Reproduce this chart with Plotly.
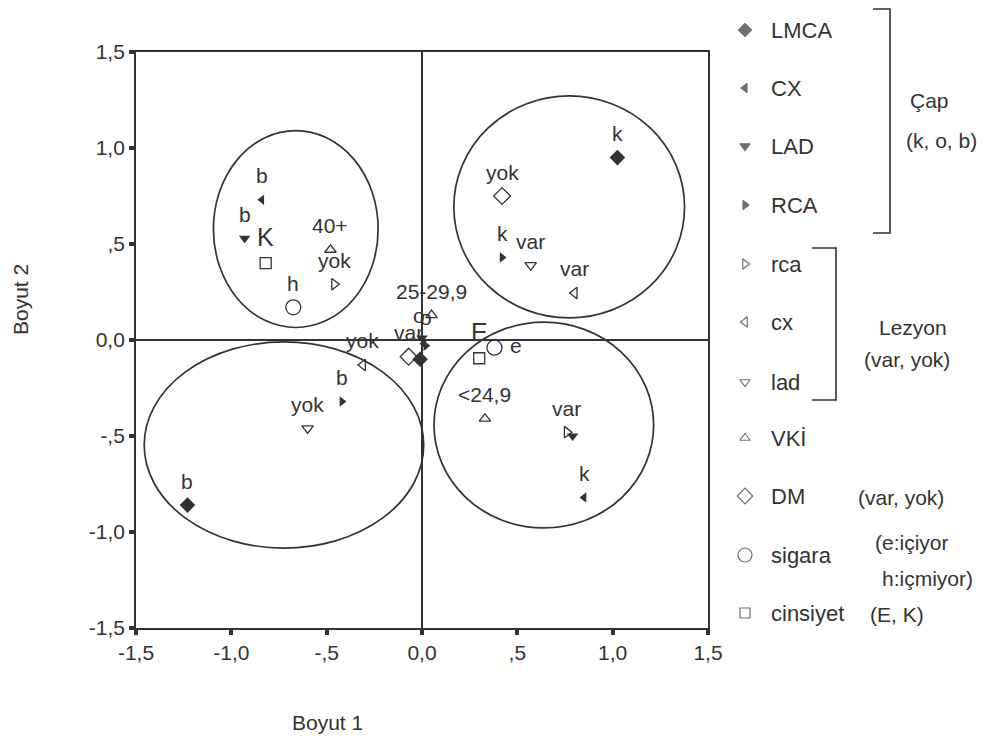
import plotly.graph_objects as go

# ---------------- data ----------------
series_names = ["LMCA", "CX", "LAD", "RCA", "rca", "cx", "lad", "VKİ", "DM", "sigara", "cinsiyet"]
LMCA_x = [1.025, -0.01, -1.23]
LMCA_y = [0.95, -0.10, -0.86]
LMCA_lab = ["k", "", "b"]
CX_x = [-0.84, 0.01, 0.85]
CX_y = [0.73, -0.02, -0.82]
CX_lab = ["b", "o", "k"]
LAD_x = [-0.93, 0.00, 0.79]
LAD_y = [0.53, 0.01, -0.50]
LAD_lab = ["b", "", ""]
RCA_x = [0.42, 0.02, -0.42]
RCA_y = [0.43, -0.03, -0.32]
RCA_lab = ["k", "o", "b"]
rca_x = [-0.46, 0.76]
rca_y = [0.29, -0.48]
rca_lab = ["yok", "var"]
cx_x = [0.80, -0.31]
cx_y = [0.245, -0.13]
cx_lab = ["var", "yok"]
lad_x = [0.57, -0.60]
lad_y = [0.39, -0.46]
lad_lab = ["var", "yok"]
VKI_x = [-0.48, 0.05, 0.33]
VKI_y = [0.47, 0.13, -0.41]
VKI_lab = ["40+", "25-29,9", "<24,9"]
DM_x = [0.42, -0.07]
DM_y = [0.75, -0.087]
DM_lab = ["yok", "var"]
sigara_x = [-0.675, 0.38]
sigara_y = [0.17, -0.04]
sigara_lab = ["h", "e"]
cins_x = [-0.82, 0.30]
cins_y = [0.40, -0.095]
cins_lab = ["K", "E"]

# cluster ellipses (center x, center y, radius x, radius y)
ell_cx = [-0.662, 0.772, 0.639, -0.724]
ell_cy = [0.578, 0.693, -0.443, -0.547]
ell_rx = [0.432, 0.605, 0.576, 0.733]
ell_ry = [0.513, 0.578, 0.536, 0.537]

tick_vals = [-1.5, -1.0, -0.5, 0.0, 0.5, 1.0, 1.5]
tick_text = ["-1,5", "-1,0", "-,5", "0,0", ",5", "1,0", "1,5"]

legend_labels = ["LMCA", "CX", "LAD", "RCA", "rca", "cx", "lad", "VKİ", "DM", "sigara", "cinsiyet"]

# ---------------- styles ----------------
INK = "#333333"
FONT = "Liberation Sans, Arial, sans-serif"
OFF = 8                     # page body margin
W, H = 989 - OFF, 744 - OFF  # figure size so that it ends at the window edge
PL, PR, PT, PB = 136 - OFF, 708 - OFF, 52 - OFF, 628 - OFF  # plot area in figure pixels

styles = {
    "LMCA": dict(symbol="diamond", size=12, filled=True, leg=10),
    "CX": dict(symbol="triangle-left", size=9, filled=True, leg=8),
    "LAD": dict(symbol="triangle-down", size=10, filled=True, leg=9),
    "RCA": dict(symbol="triangle-right", size=9, filled=True, leg=8),
    "rca": dict(symbol="triangle-right-open", size=10, filled=False, leg=9),
    "cx": dict(symbol="triangle-left-open", size=10, filled=False, leg=9),
    "lad": dict(symbol="triangle-down-open", size=10, filled=False, leg=9),
    "VKİ": dict(symbol="triangle-up-open", size=10, filled=False, leg=9),
    "DM": dict(symbol="diamond-open", size=13, filled=False, leg=12),
    "sigara": dict(symbol="circle-open", size=15, filled=False, leg=14),
    "cinsiyet": dict(symbol="square-open", size=11, filled=False, leg=10),
}

data = {
    "LMCA": (LMCA_x, LMCA_y, LMCA_lab),
    "CX": (CX_x, CX_y, CX_lab),
    "LAD": (LAD_x, LAD_y, LAD_lab),
    "RCA": (RCA_x, RCA_y, RCA_lab),
    "rca": (rca_x, rca_y, rca_lab),
    "cx": (cx_x, cx_y, cx_lab),
    "lad": (lad_x, lad_y, lad_lab),
    "VKİ": (VKI_x, VKI_y, VKI_lab),
    "DM": (DM_x, DM_y, DM_lab),
    "sigara": (sigara_x, sigara_y, sigara_lab),
    "cinsiyet": (cins_x, cins_y, cins_lab),
}

fig = go.Figure()
annotations = []

for name in series_names:
    xs, ys, labs = data[name]
    st = styles[name]
    fig.add_trace(go.Scatter(
        x=xs, y=ys, mode="markers", name=name, showlegend=False,
        marker=dict(symbol=st["symbol"], size=st["size"],
                    color=INK, line=dict(color=INK, width=1.3 if not st["filled"] else 0)),
        xaxis="x", yaxis="y", cliponaxis=False,
    ))
    for xv, yv, lab in zip(xs, ys, labs):
        if not lab:
            continue
        xshift, yshift, size = 0, 24, 21
        if name == "cinsiyet":
            yshift, size = 26, 25
        if name == "sigara" and lab == "e":
            xshift, yshift = 22, 2
        if lab == "o":
            yshift = 28
            xshift = -5 if name == "CX" else 0
        annotations.append(dict(
            x=xv, y=yv, xref="x", yref="y", text=lab, showarrow=False,
            xshift=xshift, yshift=yshift, font=dict(family=FONT, size=size, color=INK),
        ))

# ellipses
shapes = []
for cxv, cyv, rxv, ryv in zip(ell_cx, ell_cy, ell_rx, ell_ry):
    shapes.append(dict(type="circle", xref="x", yref="y",
                       x0=cxv - rxv, x1=cxv + rxv, y0=cyv - ryv, y1=cyv + ryv,
                       line=dict(color=INK, width=1.7), layer="below"))

# ---------------- legend panel (window pixel coordinates on x2/y2) ----------------
leg_y = [30, 88, 146, 205, 264, 322, 382, 438, 496, 555, 613]
leg_mx, leg_tx = 745, 769
fig.add_trace(go.Scatter(
    x=[leg_mx] * len(legend_labels), y=leg_y, mode="markers", showlegend=False,
    marker=dict(symbol=[styles[n]["symbol"] for n in legend_labels],
                size=[styles[n]["leg"] for n in legend_labels],
                color=INK, line=dict(color=INK, width=1.2)),
    xaxis="x2", yaxis="y2", hoverinfo="skip",
))
for lab, yv in zip(legend_labels, leg_y):
    annotations.append(dict(x=leg_tx, y=yv, xref="x2", yref="y2", text=lab, showarrow=False,
                            xanchor="left", yanchor="middle",
                            font=dict(family=FONT, size=22, color=INK)))

side_texts = [
    ("Çap", 929, 100),
    ("(k, o, b)", 941, 140),
    ("Lezyon", 913, 327),
    ("(var, yok)", 907, 359),
    ("(var, yok)", 901, 497),
    ("(e:içiyor", 912, 542),
    ("h:içmiyor)", 927, 578),
    ("(E, K)", 897, 614),
]
for t, xv, yv in side_texts:
    annotations.append(dict(x=xv, y=yv, xref="x2", yref="y2", text=t, showarrow=False,
                            xanchor="center", yanchor="middle",
                            font=dict(family=FONT, size=21, color=INK)))

# brackets
shapes.append(dict(type="path", xref="x2", yref="y2",
                   path="M 873 9 L 890 9 L 890 233 L 873 233",
                   line=dict(color=INK, width=1.6)))
shapes.append(dict(type="path", xref="x2", yref="y2",
                   path="M 812 248 L 836 248 L 836 400 L 812 400",
                   line=dict(color=INK, width=1.6)))

# axis titles (window pixel positions converted to paper fractions)
annotations.append(dict(x=(327 - OFF) / W, y=1 - (722 - OFF) / H, xref="paper", yref="paper",
                        xanchor="center", yanchor="middle",
                        text="Boyut 1", showarrow=False, font=dict(family=FONT, size=21, color=INK)))
annotations.append(dict(x=(20 - OFF) / W, y=1 - (300 - OFF) / H, xref="paper", yref="paper",
                        xanchor="center", yanchor="middle",
                        text="Boyut 2", showarrow=False, textangle=-90,
                        font=dict(family=FONT, size=21, color=INK)))

axis_common = dict(
    range=[-1.5, 1.5], tickvals=tick_vals, ticktext=tick_text, automargin=False,
    showgrid=False, zeroline=True, zerolinecolor=INK, zerolinewidth=1.6,
    showline=True, linecolor=INK, linewidth=1.8, mirror=True,
    ticks="outside", ticklen=5, tickwidth=4, tickcolor=INK,
    tickfont=dict(family=FONT, size=21, color=INK),
)

X2_LEFT = 720
fig.update_layout(
    width=W, height=H, autosize=False,
    margin=dict(l=0, r=0, t=0, b=0, pad=0, autoexpand=False),
    paper_bgcolor="white", plot_bgcolor="white",
    xaxis=dict(domain=[PL / W, PR / W], anchor="y", **axis_common),
    yaxis=dict(domain=[1 - PB / H, 1 - PT / H], anchor="x", **axis_common),
    xaxis2=dict(domain=[(X2_LEFT - OFF) / W, 1], range=[X2_LEFT, 989], visible=False,
                anchor="y2", automargin=False),
    yaxis2=dict(domain=[0, 1], range=[744, OFF], visible=False, anchor="x2", automargin=False),
    shapes=shapes, annotations=annotations, showlegend=False,
)

fig.write_html("out.html")
